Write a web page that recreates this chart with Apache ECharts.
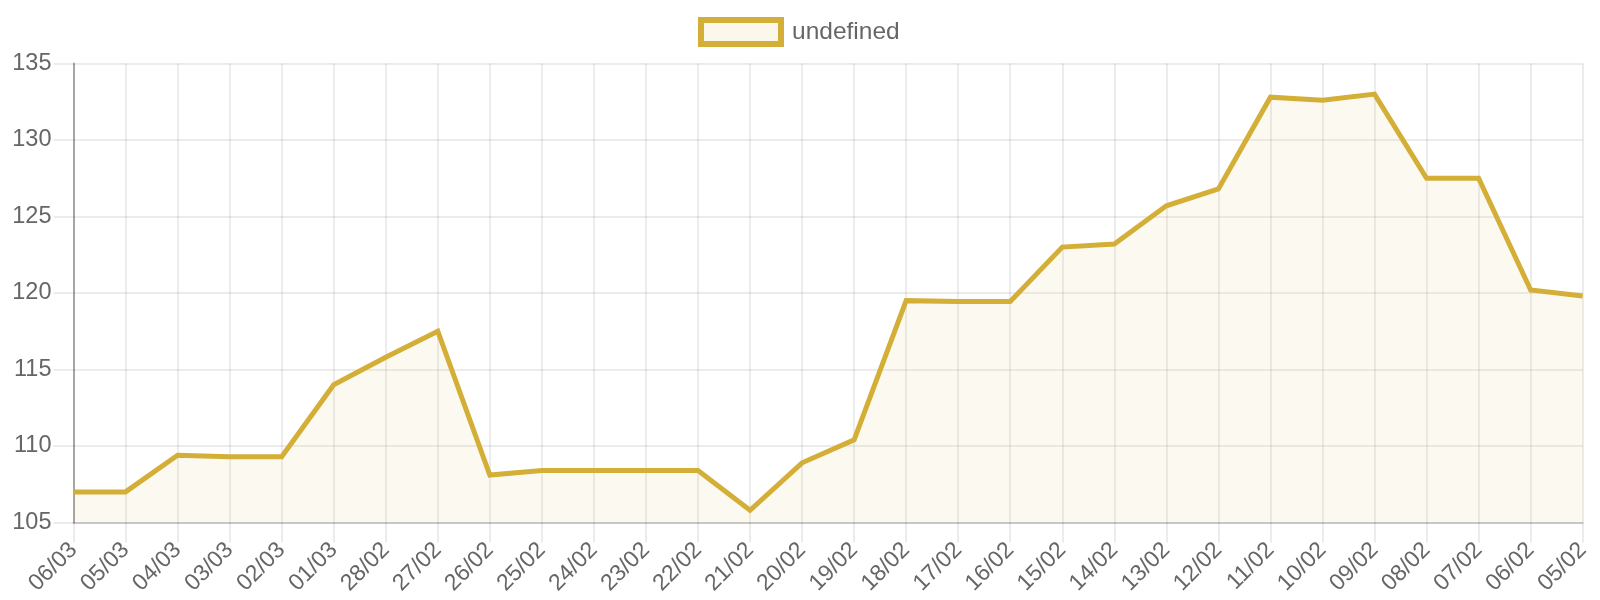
<!DOCTYPE html>
<html>
<head>
<meta charset="utf-8">
<script src="https://cdn.jsdelivr.net/npm/echarts@6/dist/echarts.min.js"></script>
<style>html,body{margin:0;padding:0;background:#fff}#c{width:1600px;height:600px}</style>
</head>
<body>
<div id="c"></div>
<script>
const categories = ['06/03','05/03','04/03','03/03','02/03','01/03','28/02','27/02','26/02','25/02','24/02','23/02','22/02','21/02','20/02','19/02','18/02','17/02','16/02','15/02','14/02','13/02','12/02','11/02','10/02','09/02','08/02','07/02','06/02','05/02'];
const values = [107.0,107.0,109.4,109.3,109.3,114.0,115.8,117.5,108.1,108.4,108.4,108.4,108.4,105.8,108.9,110.4,119.5,119.45,119.45,123.0,123.2,125.7,126.8,132.8,132.6,133.0,127.5,127.5,120.2,119.8];
const seriesName = 'undefined';
const yTicks = {min:105, max:135, interval:5};

const gridColor = 'rgba(0,0,0,0.075)';
const font = 'Liberation Sans';
const chart = echarts.init(document.getElementById('c'));
chart.setOption({
  animation:false,
  legend:{
    left:693, top:12,
    icon:'rect', itemWidth:80, itemHeight:24,
    itemStyle:{color:'rgba(212,175,55,0.1)', borderColor:'#D4AF37', borderWidth:6},
    textStyle:{color:'#666', fontSize:24.5, fontFamily:font, padding:[0,0,0,6]},
    data:[seriesName]
  },
  grid:{left:73.5, right:17.3, top:63.5, bottom:77.5, containLabel:false},
  xAxis:{
    type:'category', data:categories, boundaryGap:false,
    axisLine:{show:true, lineStyle:{color:'rgba(0,0,0,0.16)', width:2}},
    axisTick:{show:true, length:20, lineStyle:{color:gridColor, width:2}},
    splitLine:{show:true, lineStyle:{color:gridColor, width:2}},
    axisLabel:{rotate:45, margin:24, color:'#666', fontSize:23, fontFamily:font, interval:0}
  },
  yAxis:{
    type:'value', min:yTicks.min, max:yTicks.max, interval:yTicks.interval,
    axisLine:{show:true, lineStyle:{color:'rgba(0,0,0,0.3)', width:2}},
    axisTick:{show:true, length:20, lineStyle:{color:gridColor, width:2}},
    splitLine:{show:true, lineStyle:{color:gridColor, width:2}},
    axisLabel:{margin:22, color:'#666', fontSize:23.5, fontFamily:font}
  },
  series:[{
    name:seriesName, type:'line', data:values,
    showSymbol:false, symbol:'none',
    lineStyle:{color:'#D4AF37', width:5, join:'miter'},
    itemStyle:{color:'#D4AF37'},
    areaStyle:{color:'rgba(212,175,55,0.1)', origin:'start'}
  }]
});
</script>
</body>
</html>
